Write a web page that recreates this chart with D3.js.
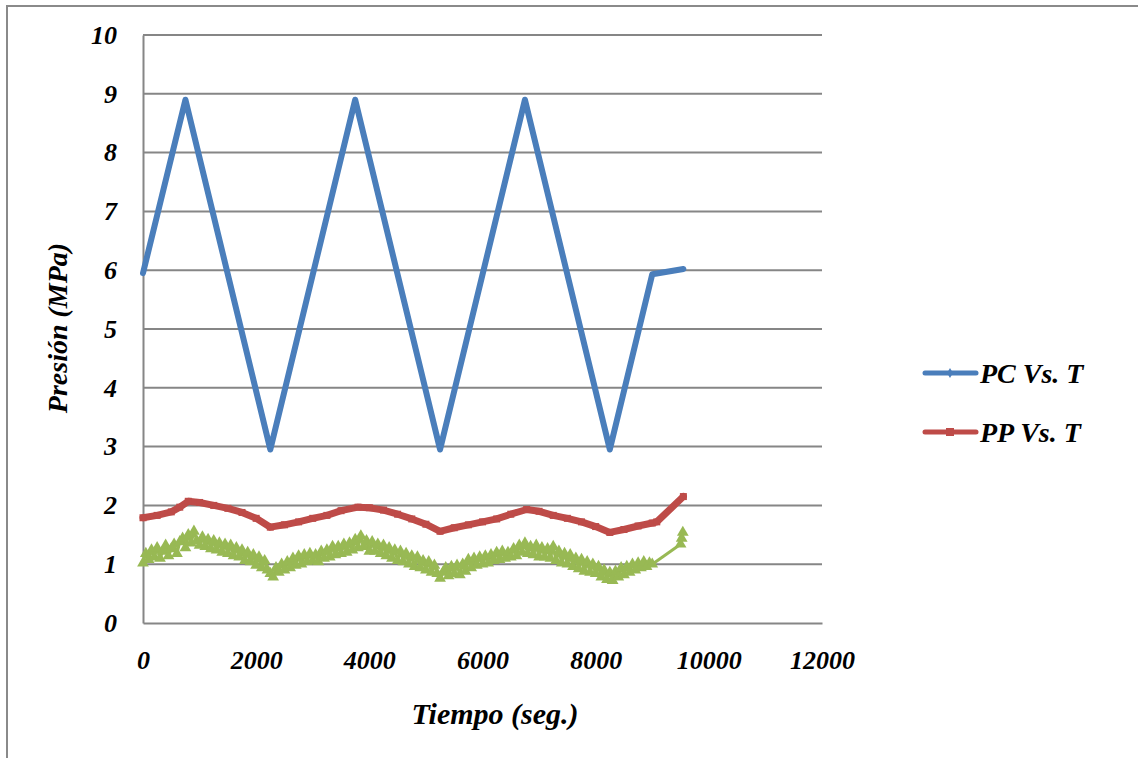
<!DOCTYPE html>
<html>
<head>
<meta charset="utf-8">
<script src="https://cdn.jsdelivr.net/npm/d3@7"></script>
<style>
  html, body { margin: 0; padding: 0; background: #fff; }
  svg { display: block; }
  svg text {
    font-family: "Liberation Serif", "Times New Roman", Tinos, "DejaVu Serif", "Noto Serif", serif;
    font-weight: bold; font-style: italic; fill: #000;
  }
</style>
</head>
<body>
<svg id="chart" width="1138" height="758"></svg>
<script>
const FONT = '"Liberation Serif", "Times New Roman", Tinos, "DejaVu Serif", serif';

// Presión de cámara (PC) — tiempo (s), presión (MPa)
const pcTime  = [0, 750, 2250, 3750, 5250, 6750, 8250, 9000, 9550];
const pcValue = [5.95, 8.9, 2.95, 8.9, 2.95, 8.9, 2.95, 5.93, 6.02];

// Presión de poro (PP)
const ppTime  = [0, 250, 500, 650, 800, 1000, 1250, 1500, 1750, 2000, 2250, 2500, 2750, 3000, 3250, 3500, 3800,
                 4000, 4250, 4500, 4750, 5000, 5250, 5500, 5750, 6000, 6250, 6500, 6780, 7000, 7250, 7500, 7750,
                 8000, 8250, 8500, 8750, 9000, 9080, 9550];
const ppValue = [1.79, 1.83, 1.89, 1.97, 2.07, 2.05, 2.00, 1.95, 1.88, 1.78, 1.63, 1.67, 1.72, 1.78, 1.83, 1.91, 1.97,
                 1.96, 1.92, 1.85, 1.77, 1.68, 1.56, 1.62, 1.67, 1.72, 1.77, 1.85, 1.93, 1.90, 1.83, 1.78, 1.72,
                 1.64, 1.54, 1.59, 1.65, 1.70, 1.72, 2.15];

// Tercera serie medida, muestreada cada 50 s (sin entrada en la leyenda)
const p3Time = [
     0,   50,  100,  150,  200,  250,  300,  350,  400,  450,
   500,  550,  600,  650,  700,  750,  800,  850,  900,  950,
  1000, 1050, 1100, 1150, 1200, 1250, 1300, 1350, 1400, 1450,
  1500, 1550, 1600, 1650, 1700, 1750, 1800, 1850, 1900, 1950,
  2000, 2050, 2100, 2150, 2200, 2250, 2300, 2350, 2400, 2450,
  2500, 2550, 2600, 2650, 2700, 2750, 2800, 2850, 2900, 2950,
  3000, 3050, 3100, 3150, 3200, 3250, 3300, 3350, 3400, 3450,
  3500, 3550, 3600, 3650, 3700, 3750, 3800, 3850, 3900, 3950,
  4000, 4050, 4100, 4150, 4200, 4250, 4300, 4350, 4400, 4450,
  4500, 4550, 4600, 4650, 4700, 4750, 4800, 4850, 4900, 4950,
  5000, 5050, 5100, 5150, 5200, 5250, 5300, 5350, 5400, 5450,
  5500, 5550, 5600, 5650, 5700, 5750, 5800, 5850, 5900, 5950,
  6000, 6050, 6100, 6150, 6200, 6250, 6300, 6350, 6400, 6450,
  6500, 6550, 6600, 6650, 6700, 6750, 6800, 6850, 6900, 6950,
  7000, 7050, 7100, 7150, 7200, 7250, 7300, 7350, 7400, 7450,
  7500, 7550, 7600, 7650, 7700, 7750, 7800, 7850, 7900, 7950,
  8000, 8050, 8100, 8150, 8200, 8250, 8300, 8350, 8400, 8450,
  8500, 8550, 8600, 8650, 8700, 8750, 8800, 8850, 8900, 8950,
  9000, 9500, 9520, 9540];
const p3Value = [
  1.02, 1.18, 1.08, 1.24, 1.12, 1.28, 1.10, 1.22, 1.32, 1.14,
  1.26, 1.34, 1.18, 1.38, 1.44, 1.28, 1.50, 1.36, 1.56, 1.40,
  1.32, 1.46, 1.30, 1.42, 1.26, 1.40, 1.24, 1.36, 1.20, 1.34,
  1.18, 1.32, 1.14, 1.28, 1.12, 1.24, 1.06, 1.20, 1.04, 1.16,
  0.98, 1.12, 0.94, 1.06, 0.90, 0.84, 0.78, 0.94, 0.86, 1.00,
  0.90, 1.04, 0.94, 1.10, 0.98, 1.14, 1.00, 1.16, 1.04, 1.18,
  1.06, 1.16, 1.04, 1.22, 1.10, 1.24, 1.12, 1.30, 1.16, 1.30,
  1.18, 1.34, 1.20, 1.36, 1.24, 1.42, 1.28, 1.48, 1.30, 1.40,
  1.22, 1.38, 1.22, 1.34, 1.18, 1.32, 1.14, 1.28, 1.10, 1.24,
  1.06, 1.22, 1.04, 1.18, 1.00, 1.14, 0.96, 1.12, 0.94, 1.06,
  0.90, 1.04, 0.86, 0.98, 0.84, 0.76, 0.86, 0.94, 0.80, 0.96,
  0.84, 0.98, 0.82, 1.00, 0.88, 1.08, 0.94, 1.10, 0.98, 1.12,
  1.00, 1.14, 1.02, 1.16, 1.06, 1.20, 1.08, 1.22, 1.10, 1.20,
  1.12, 1.26, 1.14, 1.32, 1.20, 1.36, 1.18, 1.30, 1.16, 1.32,
  1.12, 1.28, 1.12, 1.26, 1.10, 1.30, 1.06, 1.22, 1.02, 1.18,
  1.00, 1.16, 0.96, 1.10, 0.92, 1.08, 0.88, 1.04, 0.86, 1.00,
  0.84, 0.96, 0.78, 0.90, 0.74, 0.86, 0.72, 0.88, 0.78, 0.94,
  0.82, 0.96, 0.86, 1.00, 0.90, 1.02, 0.94, 1.04, 0.96, 1.02,
  1.00, 1.34, 1.44, 1.54];

const xTicks = [0, 2000, 4000, 6000, 8000, 10000, 12000];
const yTicks = [0, 1, 2, 3, 4, 5, 6, 7, 8, 9, 10];

const svg = d3.select("#chart");
const gridColor = "#868686";

const x = d3.scaleLinear().domain([0, 12000]).range([143, 822]);
const y = d3.scaleLinear().domain([0, 10]).range([623, 35]);

// Marco exterior del gráfico
svg.append("rect")
  .attr("x", 7).attr("y", 6).attr("width", 1160).attr("height", 800)
  .attr("fill", "none").attr("stroke", "#8a8a8a").attr("stroke-width", 2);

// Líneas de la cuadrícula horizontal
svg.append("g")
  .selectAll("line")
  .data(yTicks.filter(d => d > 0))
  .join("line")
  .attr("x1", x(0)).attr("x2", x(12000))
  .attr("y1", d => y(d)).attr("y2", d => y(d))
  .attr("stroke", gridColor).attr("stroke-width", 2);

// Ejes
const yAxis = svg.append("g").attr("transform", `translate(${x(0)},0)`)
  .call(d3.axisLeft(y).tickValues(yTicks).tickSize(0).tickPadding(26).tickFormat(d3.format("d")));
const xAxis = svg.append("g").attr("transform", `translate(0,${y(0)})`)
  .call(d3.axisBottom(x).tickValues(xTicks).tickSize(0).tickPadding(28).tickFormat(d3.format("d")));
[yAxis, xAxis].forEach(g => {
  g.attr("font-family", FONT).attr("font-size", 26);
  g.select(".domain").attr("stroke", gridColor).attr("stroke-width", 2);
  g.selectAll("text").attr("fill", "#000");
});

// Títulos de los ejes
svg.append("text")
  .attr("x", 495).attr("y", 724)
  .attr("text-anchor", "middle").attr("font-size", 30).attr("font-family", FONT)
  .text("Tiempo (seg.)");
svg.append("text")
  .attr("transform", "translate(67,328) rotate(-90)")
  .attr("text-anchor", "middle").attr("font-size", 28).attr("font-family", FONT)
  .text("Presión (MPa)");

const line = d3.line().x(d => x(d[0])).y(d => y(d[1]));

// Serie verde con marcadores triangulares
const p3 = p3Time.map((t, i) => [t, p3Value[i]]);
svg.append("path").datum(p3).attr("d", line)
  .attr("fill", "none").attr("stroke", "#98B954").attr("stroke-width", 3).attr("stroke-linejoin", "round");
const tri = d3.symbol().type(d3.symbolTriangle).size(60);
svg.append("g").selectAll("path").data(p3).join("path")
  .attr("d", tri)
  .attr("transform", d => `translate(${x(d[0])},${y(d[1])})`)
  .attr("fill", "#98B954");

// Serie PP (roja) con marcadores cuadrados
const pp = ppTime.map((t, i) => [t, ppValue[i]]);
svg.append("path").datum(pp).attr("d", line)
  .attr("fill", "none").attr("stroke", "#BE4B48").attr("stroke-width", 7)
  .attr("stroke-linejoin", "round").attr("stroke-linecap", "round");
svg.append("g").selectAll("rect").data(pp).join("rect")
  .attr("x", d => x(d[0]) - 3.5).attr("y", d => y(d[1]) - 3.5)
  .attr("width", 7).attr("height", 7).attr("fill", "#BE4B48");

// Serie PC (azul)
const pc = pcTime.map((t, i) => [t, pcValue[i]]);
svg.append("path").datum(pc).attr("d", line)
  .attr("fill", "none").attr("stroke", "#4A7EBB").attr("stroke-width", 6)
  .attr("stroke-linejoin", "round").attr("stroke-linecap", "round");

// Leyenda
const legend = [
  { name: "PC Vs. T", color: "#4A7EBB", y: 373, marker: "diamond" },
  { name: "PP Vs. T", color: "#BE4B48", y: 432, marker: "square" }
];
const lg = svg.append("g");
legend.forEach(d => {
  lg.append("line").attr("x1", 925).attr("x2", 976).attr("y1", d.y).attr("y2", d.y)
    .attr("stroke", d.color).attr("stroke-width", 5).attr("stroke-linecap", "round");
  if (d.marker === "square") {
    lg.append("rect").attr("x", 946).attr("y", d.y - 4).attr("width", 8).attr("height", 8).attr("fill", d.color);
  } else {
    lg.append("path").attr("d", d3.symbol().type(d3.symbolDiamond).size(30)())
      .attr("transform", `translate(950,${d.y})`).attr("fill", d.color);
  }
  lg.append("text").attr("x", 980).attr("y", d.y + 10).attr("font-size", 28)
    .attr("font-family", FONT).text(d.name);
});
</script>
</body>
</html>
